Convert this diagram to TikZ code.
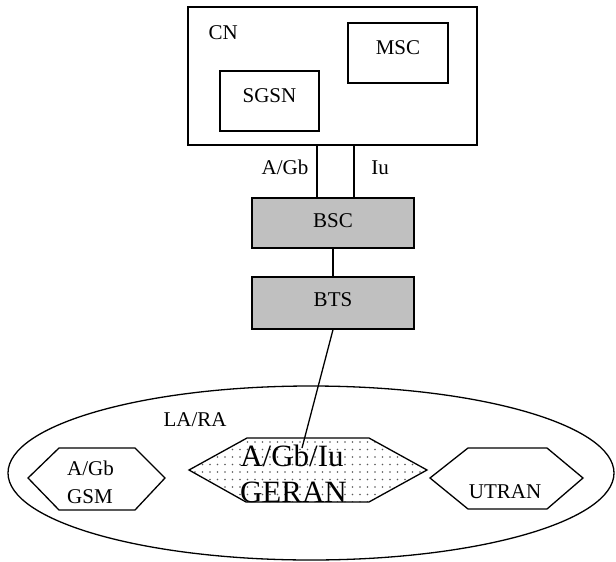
\documentclass[tikz,border=0pt]{standalone}
\usepackage{fontspec}
\setmainfont{Liberation Serif}
\usetikzlibrary{patterns.meta}
\begin{document}
\begin{tikzpicture}[x=1pt,y=-1pt,line width=1.3pt,
  txt/.style={font=\fontsize{21}{25}\selectfont,inner sep=0pt},
  bigtxt/.style={font=\fontsize{31}{36}\selectfont,inner sep=0pt,anchor=base},
  plainbox/.style={draw,inner sep=0pt,font=\fontsize{21}{25}\selectfont},
  graybox/.style={plainbox,fill={rgb,255:red,192;green,192;blue,192}},
  hexa/.style={draw,line join=miter}]
\useasboundingbox (0,0) rectangle (616,562);
% core network
\node[draw,minimum width=289pt,minimum height=138pt,inner sep=0pt] (cn) at (332.5,76) {};
\node[txt,anchor=base west] (cnlbl) at (208,39) {CN};
\node[plainbox,minimum width=100pt,minimum height=60pt,text depth=10pt] (msc) at (398,53) {MSC};
\node[plainbox,minimum width=99pt,minimum height=60pt,text depth=10pt] (sgsn) at (269.5,101) {SGSN};
% BSC / BTS
\node[graybox,minimum width=162pt,minimum height=50pt,text depth=5pt] (bsc) at (333,223) {BSC};
\node[graybox,minimum width=162pt,minimum height=52pt,text depth=6pt] (bts) at (333,303) {BTS};
\draw ([xshift=-16pt]bsc.north) -- ([xshift=-16pt]bsc.north |- cn.south);
\draw ([xshift=21pt]bsc.north) -- ([xshift=21pt]bsc.north |- cn.south);
\node[txt,anchor=base] (agblbl) at (285,174) {A/Gb};
\node[txt,anchor=base] (iulbl) at (380,174) {Iu};
\draw (bsc.south) -- (bts.north);
% LA/RA area
\draw (311,473) ellipse [x radius=303pt,y radius=87pt];
\node[txt,anchor=base west] (lara) at (163,426) {LA/RA};
% GSM hexagon
\draw[hexa] (28,478) -- (59,448) -- (135,448) -- (165,478) -- (135,510) -- (59,510) -- cycle;
\node[txt,anchor=base] (gsm1) at (90.5,475) {A/Gb};
\node[txt,anchor=base] (gsm2) at (90,503) {GSM};
% GERAN hexagon
\draw[hexa,pattern={Dots[distance=7.5pt,radius=0.9pt]},pattern color=black!65]
  (189,470) -- (247,438) -- (369,438) -- (427,470) -- (369,502) -- (246,502) -- cycle;
\coordinate (geranend) at (302,448);
\draw (bts.south) -- (geranend);
\node[bigtxt] (geran1) at (292,466) {A/Gb/Iu};
\node[bigtxt] (geran2) at (293.5,502) {GERAN};
% UTRAN hexagon
\draw[hexa] (430,478) -- (468,448) -- (547,448) -- (583,478) -- (547,509) -- (468,509) -- cycle;
\node[txt,anchor=base] (utran) at (505,498) {UTRAN};
\end{tikzpicture}
\end{document}
